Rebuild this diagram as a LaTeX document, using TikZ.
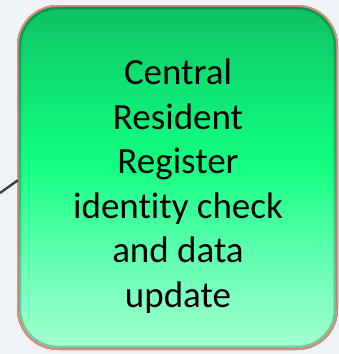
\documentclass[tikz,border=0pt]{standalone}
\usepackage{fontspec}
\setmainfont{Carlito}[Ligatures=NoCommon]
\definecolor{paper}{HTML}{EFF3F7}
\definecolor{rim}{HTML}{DF907C}
\definecolor{rimdark}{HTML}{6E4A40}
\definecolor{greentop}{HTML}{0FBF62}
\definecolor{greenhigh}{HTML}{0FE272}
\definecolor{greenmid}{HTML}{12FF80}
\definecolor{greenlight}{HTML}{58FFAC}
\definecolor{greenlow}{HTML}{A6FFD2}
\definecolor{wire}{HTML}{3E4244}
% vertical fill of the box, 25bp..75bp is the part that is used
\pgfdeclareverticalshading{greenfill}{100bp}{color(0bp)=(greenlow); color(25bp)=(greenlow);
  color(40bp)=(greenlight); color(52bp)=(greenmid); color(64bp)=(greenhigh);
  color(75bp)=(greentop); color(100bp)=(greentop)}
\tikzset{
  stepbox/.style={rectangle,rounded corners=40pt,
    minimum width=319pt,minimum height=343pt,shading=greenfill},
  steptext/.style={align=center,font=\fontsize{37}{44.5}\selectfont},
  boxedge/.style={rounded corners=40pt,line width=1.6pt},
}

\begin{document}
\begin{tikzpicture}[x=1pt,y=-1pt,inner sep=0pt]
\useasboundingbox[fill=paper] (0,0) rectangle (339,354);
\node[stepbox] (crr) at (177.5,177.5) {};
% bevel: dark inner edge at right and bottom, light line under the top
\begin{scope}
\clip[rounded corners=40pt] (crr.north west) rectangle (crr.south east);
\draw[boxedge,black,opacity=.22,line width=7pt,xshift=-2.5pt,yshift=3pt]
  (crr.north west) rectangle (crr.south east);
\draw[boxedge,white,opacity=.35,line width=2pt,yshift=-4pt]
  (crr.north west) rectangle (crr.south east);
\end{scope}
\draw[boxedge,rimdark,xshift=1pt,yshift=-1pt] (crr.north west) rectangle (crr.south east);
\draw[boxedge,rim] (crr.north west) rectangle (crr.south east);
\node[steptext] (crrtext) at (178,186) {Central\\Resident\\Register\\identity check\\and data\\update};
\coordinate (from) at (0,193);
\draw[wire,line width=2.4pt] (from) -- (crr.181.6);
\end{tikzpicture}
\end{document}
